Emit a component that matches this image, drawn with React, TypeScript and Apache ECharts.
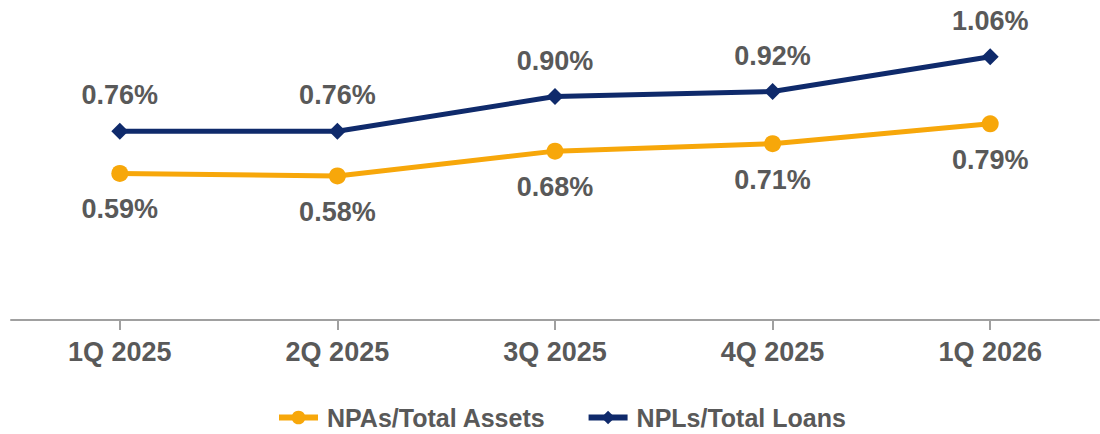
import React, { useEffect, useRef } from "react";
import * as echarts from "echarts";

const categories = ["1Q 2025", "2Q 2025", "3Q 2025", "4Q 2025", "1Q 2026"];
const npaValues = [0.59, 0.58, 0.68, 0.71, 0.79];
const nplValues = [0.76, 0.76, 0.9, 0.92, 1.06];
const seriesNames = ["NPAs/Total Assets", "NPLs/Total Loans"];

const TEXT = "#595959";
const FONT = "Liberation Sans, Arial, sans-serif";

export default function App() {
  const ref = useRef<HTMLDivElement>(null);
  useEffect(() => {
    document.body.style.margin = "0";
    const chart = echarts.init(ref.current!, undefined, { renderer: "svg" });
    const labelStyle = {
      show: true,
      fontSize: 27,
      fontWeight: "bold" as const,
      color: TEXT,
      fontFamily: FONT,
      formatter: (p: any) => p.value.toFixed(2) + "%",
    };
    chart.setOption({
      animation: false,
      backgroundColor: "#ffffff",
      grid: { left: 11, right: 1, top: 22, bottom: 114, containLabel: false },
      legend: {
        top: 400,
        left: 271,
        itemWidth: 39,
        itemHeight: 17,
        itemGap: 40,
        lineStyle: { width: 6 },
        textStyle: {
          fontSize: 25,
          fontWeight: "bold",
          color: TEXT,
          fontFamily: FONT,
          padding: [0, 0, 0, 4],
        },
        data: seriesNames,
      },
      xAxis: {
        type: "category",
        data: categories,
        boundaryGap: true,
        axisLine: { lineStyle: { color: "#a0a0a0", width: 2 } },
        axisTick: { show: true, alignWithLabel: true, length: 10, lineStyle: { color: "#a0a0a0", width: 2 } },
        axisLabel: { fontSize: 27, fontWeight: "bold", color: TEXT, fontFamily: FONT, margin: 18 },
      },
      yAxis: {
        type: "value",
        min: 0,
        max: 1.2,
        show: false,
        splitLine: { show: false },
      },
      series: [
        {
          name: seriesNames[0],
          type: "line",
          data: npaValues,
          symbol: "circle",
          symbolSize: 17,
          lineStyle: { color: "#F7A70A", width: 5 },
          itemStyle: { color: "#F7A70A" },
          label: { ...labelStyle, position: "bottom", distance: 14 },
        },
        {
          name: seriesNames[1],
          type: "line",
          data: nplValues,
          symbol: "diamond",
          symbolSize: 17,
          lineStyle: { color: "#0F2A6B", width: 5 },
          itemStyle: { color: "#0F2A6B" },
          label: { ...labelStyle, position: "top", distance: 14 },
        },
      ],
    });
    return () => chart.dispose();
  }, []);
  return <div ref={ref} style={{ width: 1100, height: 434 }} />;
}
